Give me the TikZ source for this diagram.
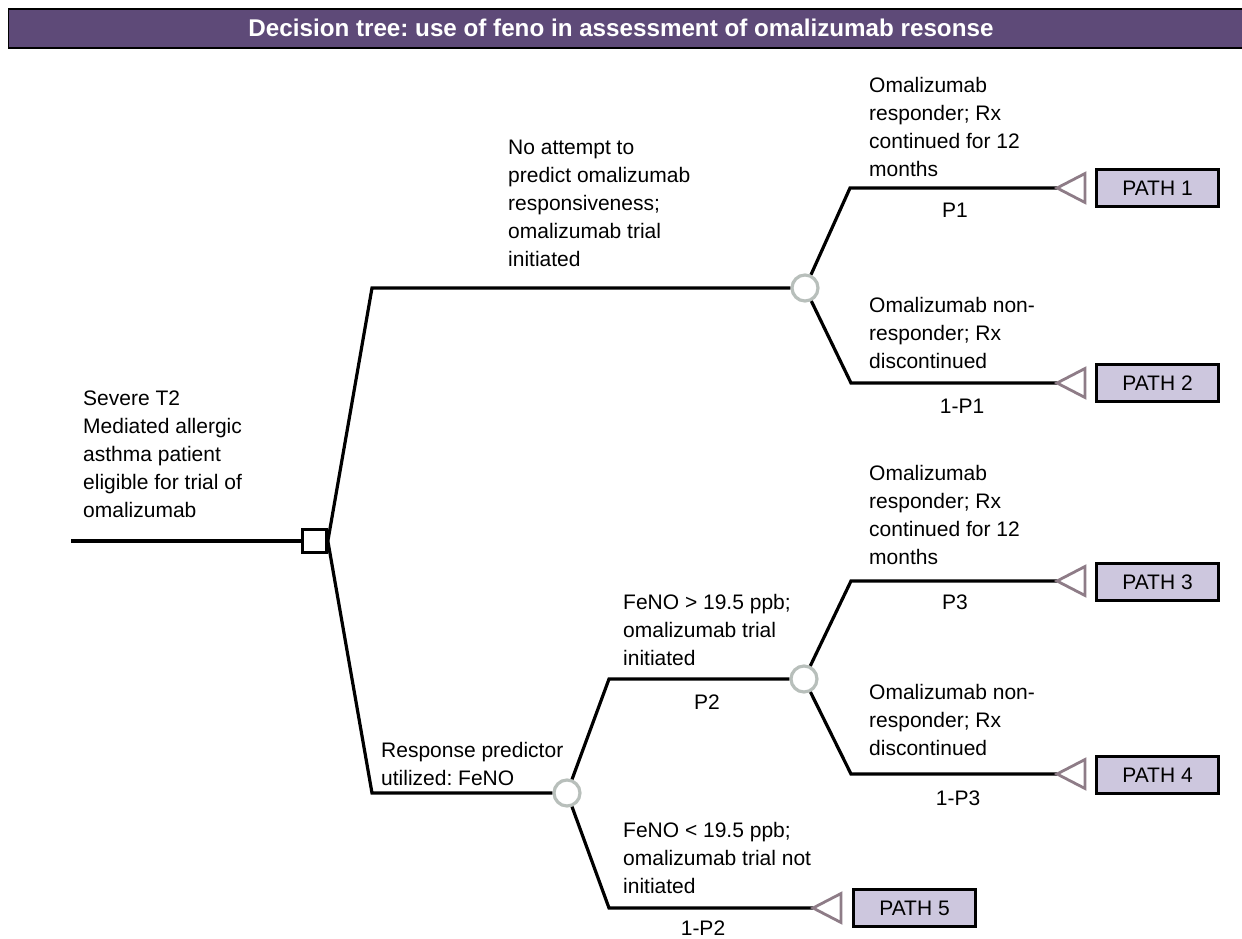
\documentclass[tikz,border=0pt]{standalone}
\usepackage{fontspec}
\setmainfont{Liberation Sans}
\frenchspacing
\definecolor{titlebg}{HTML}{5E4A78}
\definecolor{chgray}{HTML}{B8BFBB}
\definecolor{trigray}{HTML}{8E7C87}
\definecolor{boxfill}{HTML}{CDC7DE}
\begin{document}
\frenchspacing
\begin{tikzpicture}[x=1pt,y=-1pt,
  branch/.style={line width=3.2pt, black, line join=miter},
  chance/.style={circle, draw=chgray, line width=3.2pt, fill=white, minimum size=26pt, inner sep=0pt},
  decision/.style={rectangle, draw=black, line width=3.2pt, fill=white, minimum size=23.5pt, inner sep=0pt},
  termtri/.style={draw=trigray, line width=2.8pt, line join=miter},
  pathbox/.style={draw=black, line width=2.8pt, fill=boxfill, minimum width=122.5pt, minimum height=37.5pt, inner sep=0pt, font=\fontsize{21}{25}\selectfont},
  lbl/.style={inner sep=0pt, font=\fontsize{21}{28}\selectfont},
  mtext/.style={lbl, align=left, anchor=north west},
]
\useasboundingbox (0,0) rectangle (1242,939);

% title bar
\node[draw=black, line width=1.5pt, fill=titlebg, minimum width=1236pt, minimum height=39pt,
      inner sep=0pt, anchor=north west] (title) at (7.5,8.5) {};
\node[inner sep=0pt, text=white, font=\fontsize{24.2}{28}\selectfont\bfseries] (titletext) at (621,28)
      {Decision tree: use of feno in assessment of omalizumab resonse};

% nodes
\coordinate (root) at (71,541);
\node[decision] (dec) at (314.5,541) {};
\node[chance] (c1) at (805,288) {};
\node[chance] (c3) at (567,793) {};
\node[chance] (c2) at (804,679) {};

\coordinate (eU) at (372,288);
\coordinate (eL) at (372,793);
\coordinate (e1) at (850,188);
\coordinate (e2) at (851,383);
\coordinate (eA) at (609,679);
\coordinate (eB) at (609,908);
\coordinate (e3) at (851,581);
\coordinate (e4) at (851,774);

\coordinate (t1) at (1057,188);
\coordinate (t2) at (1057,383);
\coordinate (t3) at (1057,581);
\coordinate (t4) at (1057,774);
\coordinate (t5) at (813,908);

\node[pathbox] (p1) at (1157.5,188) {PATH 1};
\node[pathbox] (p2) at (1157.5,383) {PATH 2};
\node[pathbox] (p3) at (1157.5,582) {PATH 3};
\node[pathbox] (p4) at (1157.5,775) {PATH 4};
\node[pathbox] (p5) at (914.5,908) {PATH 5};

% connectors
\draw[branch] (root) -- (dec);
\draw[branch] (dec.east) -- (eU) -- (c1);
\draw[branch] (dec.east) -- (eL) -- (c3);
\draw[branch] (c1) -- (e1) -- (t1);
\draw[branch] (c1) -- (e2) -- (t2);
\draw[branch] (c3) -- (eA) -- (c2);
\draw[branch] (c3) -- (eB) -- (t5);
\draw[branch] (c2) -- (e3) -- (t3);
\draw[branch] (c2) -- (e4) -- (t4);

% terminal triangles
\foreach \t in {t1,t2,t3,t4,t5}{
  \draw[termtri] (\t) -- ++(28,-14.5) -- ++(0,29) -- cycle;
}

% branch texts
\node[mtext] (txRoot) at (83,390.5) {Severe T2\\Mediated allergic\\asthma patient\\eligible for trial of\\omalizumab};
\node[mtext] (txNo) at (508,139.5) {No attempt to\\predict omalizumab\\responsiveness;\\omalizumab trial\\initiated};
\node[mtext] (txR1) at (869,77.5) {Omalizumab\\responder; Rx\\continued for 12\\months};
\node[mtext] (txN1) at (869,297.5) {Omalizumab non-\\responder; Rx\\discontinued};
\node[mtext] (txR3) at (869,465.5) {Omalizumab\\responder; Rx\\continued for 12\\months};
\node[mtext] (txN3) at (869,684.5) {Omalizumab non-\\responder; Rx\\discontinued};
\node[mtext] (txHi) at (623,594.5) {FeNO > 19.5 ppb;\\omalizumab trial\\initiated};
\node[mtext] (txPred) at (381,742.5) {Response predictor\\utilized: FeNO};
\node[mtext] (txLo) at (623,822.5) {FeNO < 19.5 ppb;\\omalizumab trial not\\initiated};

% probability labels
\node[lbl] (lP1) at (955,210) {P1};
\node[lbl] (lnP1) at (962,406) {1-P1};
\node[lbl] (lP3) at (955,602) {P3};
\node[lbl] (lnP3) at (958,798) {1-P3};
\node[lbl] (lP2) at (707,702) {P2};
\node[lbl] (lnP2) at (703,928.5) {1-P2};
\end{tikzpicture}
\end{document}
